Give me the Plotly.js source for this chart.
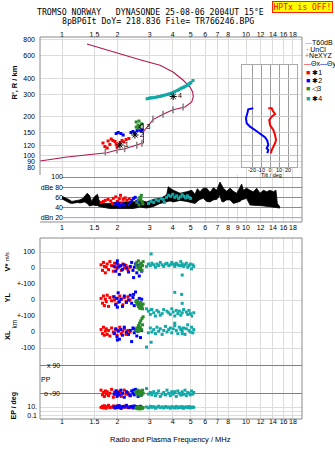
<!DOCTYPE html>
<html><head><meta charset="utf-8">
<script src="https://cdn.plot.ly/plotly-3.0.1.min.js"></script>
<style>html,body{margin:0;padding:0;background:#fff;}#chart{width:335px;height:451px;}</style>
</head><body><div id="chart"></div>
<script>
// ---------------- DATA ----------------
const fTicks = [1,1.5,2,3,4,5,6,7,8,10,12,14,16,18];
const fTickText = ['1','1.5','2','3','4','5','6','7','8','10','12','14','16','18'];
const fTicksMid = [1,1.5,2,3,4,5,6,7,8,9,10,12,14,16,18];
const fTickTextMid = ['1','1.5','2','3','4','5','6','7','8','9','10','12','14','16','18'];
const rTicks = [80,90,100,120,150,200,300,400,600,800];
const rTickText = ['80','90','100','120','150','200','300','400','600','800'];
const ppTicks = [-90,90];
const ppTickText = ['o -90','x 90'];

// NeXYZ profile (MHz, km)
const ne_f = [0.76,1.065,1.756,1.991,2.200,2.556,2.721,2.771,2.771,3.123,3.539,4.012,4.662,5.07,5.17,5.13,4.963,4.546,4.012,3.409,2.654,2.066,1.367];
const ne_R = [90.3,97.0,104.8,110.0,112.6,120.3,124.1,125.0,152.7,190.0,208.8,226.8,238.1,260.5,284.9,311.7,341.0,386.7,446.4,503.5,556.9,620.2,738.3];
const nem_f = [1.72,1.99,2.19,2.55,2.72,3.12,3.54,4.01,4.55];
const nem_R = [106,110,112.6,120,124,192,209,227,238];

// echo virtual heights R'
const rr_f = [1.67,1.71,1.78,1.82,1.76,1.89,1.94,1.97,2.02,2.07,2.12,2.17,2.23,2.31,1.99,1.85];
const rr_R = [124.7,117.1,129.3,121.4,114.0,130.5,128.1,122.5,118.2,125.9,130.5,127.0,132.8,135.2,116.1,134.0];
const rb_f = [1.97,2.02,2.09,2.15,2.37,2.43,2.49,2.56,2.62,2.69,2.72];
const rb_R = [147.9,150.6,147.9,144.0,150.6,153.3,149.3,156.1,157.5,154.7,157.5];
const rg_f = [2.53,2.62,2.59,2.65,2.70,2.53,2.59];
const rg_R = [182,185,172,168,176,166,162];
const rc_f = [2.90,2.96,3.01,3.06,3.12,3.20,3.28,3.35,3.41,3.48,3.54,3.63,3.72,3.80,3.86,3.94,4.01,4.10,4.22,4.30,4.38,4.46,4.55,4.63,4.72,4.80,4.90,4.96,5.02,5.15];
const rc_R = [276,278,280,281,281,283,285,287,288,290,293,295,298,300,302,305,309,314,320,324,329,334,338,342,347,352,360,364,370,383];

// cluster labels
const lab_f = [2.066,2.49,2.71,4.02];
const lab_R = [120.3,144.0,167,288];
const lab_t = ['1','2','3','4'];

// tilt inset
const ty_tilt = [-18.6,-24.1,-25.2,-26.7,-25.9,-22.2,-16.7,-11.1,-5.6,-3.0,-1.9,-3.7,-1.9,-3.0];
const ty_R = [232.6,228.5,212.6,194.4,177.7,167.2,157.5,148.5,138.2,130.0,120.3,113.4,110.0,103.7];
const tx_tilt = [-1.9,1.9,3.0,5.6,1.9,-0.8,0.0,3.7,5.6,6.7,5.6,3.7,1.9,1.1];
const tx_R = [232.6,232.6,222.8,210.0,200.0,188.5,172.3,157.5,144.0,131.6,124.1,116.7,110.0,103.7];

// amplitude (dBe) band
const dbe_f = [1.00,1.03,1.06,1.10,1.13,1.18,1.22,1.25,1.30,1.33,1.37,1.41,1.45,1.48,1.51,1.56,1.59,1.68,1.82,1.98,2.25,2.44,2.65,2.88,3.14,3.41,3.60,3.71,3.78,3.86,4.03,4.38,4.76,5.07,5.28,5.44,5.62,5.86,6.11,6.37,6.65,6.93,7.22,7.38,7.53,7.85,8.19,8.53,8.90,9.28,9.47,9.67,10.08,10.51,10.96,11.43,11.92,12.43,12.96,13.50,14.08,14.55,14.80,15.30];
const dbe_hi = [62,60,58,55,52,53,54,55,58,62,68,64,52,58,62,66,54,48,48,51,51,51,54,51,56,58,62,66,81,78,74,68,71,74,66,77,71,78,78,70,79,74,90,82,78,72,78,72,68,80,86,74,78,74,71,78,68,74,71,74,71,74,48,41];
const dbe_lo = [57,54,51,49,48,49,50,49,51,51,48,43,44,45,44,44,42,40,38,38,38,38,41,39,42,48,50,51,51,53,51,54,52,50,48,52,56,58,52,51,55,56,64,52,51,55,55,48,50,52,55,56,58,45,44,44,44,43,42,42,41,40,40,39];
const dr_f = [1.63,1.68,1.72,1.78,1.84,1.88,1.90,1.96,2.00,2.05,2.08,2.10,2.15,2.20,2.25,2.32];
const dr_v = [50,52,54,56,53,48,58,61,52,57,64,48,56,59,54,57];
const db_f = [1.95,2.00,2.05,2.12,2.18,2.30,2.35,2.40,2.45,2.50,2.55,2.60];
const db_v = [46,49,44,47,45,46,50,54,58,60,52,48];
const dg_f = [2.55,2.60,2.62,2.65,2.68,2.70,2.72,2.75];
const dg_v = [50,55,45,60,57,64,52,47];
const dc_f = [2.95,3.05,3.15,3.25,3.35,3.45,3.55,3.60,3.70,3.80,3.90,4.00,4.10,4.20,4.30,4.40,4.50,4.60,4.70,4.80,4.90,5.00];
const dc_v = [48,52,50,55,53,58,56,50,60,64,62,66,60,63,58,61,65,62,59,63,60,58];

// per-echo parameters: V* (m/s), YL, XL (km), PP (deg), EP (deg)
const red_f = [1.63,1.66,1.68,1.70,1.72,1.74,1.76,1.79,1.82,1.86,1.90,1.93,1.96,1.99,2.02,2.06,2.10,2.14,2.18,2.23,2.28,2.34];
const red_V = [20,-15,35,10,-30,5,25,-10,40,15,-20,30,5,-5,20,10,-15,25,0,15,-10,5];
const red_YL = [10,-20,25,-35,5,-10,30,-40,15,-5,20,0,-25,10,-15,25,5,-30,15,-10,20,0];
const red_XL = [15,-10,30,-20,5,20,-15,10,-25,25,0,-5,15,-20,10,30,-10,5,20,-15,10,0];
const red_PP = [-70,-100,-85,-110,-75,-95,-80,-105,-90,-65,-115,-85,-95,-75,-100,-80,-110,-90,-70,-95,-85,-105];
const red_EP = [8,15,6,20,10,5,12,25,7,9,18,6,14,10,22,8,5,12,16,9,11,7];

const blue_f = [1.92,1.96,1.99,2.02,2.05,2.09,2.13,2.18,2.24,2.30,2.35,2.39,2.43,2.47,2.51,2.55,2.59,2.63,2.67,2.71,2.00,2.45];
const blue_V = [10,-20,30,5,-40,15,-10,20,0,-25,10,35,-15,5,25,-30,15,-50,0,-20,45,-60];
const blue_YL = [20,-30,10,45,-10,5,-40,25,-15,0,30,-20,15,-35,50,-5,-25,10,-50,5,-45,35];
const blue_XL = [-10,20,-30,5,-45,15,-20,30,0,-15,10,-60,25,-5,15,-25,5,30,-35,10,-50,20];
const blue_PP = [-95,-75,-110,-85,-100,-70,-90,-115,-80,-95,-105,-75,-90,-100,-65,-85,-110,-95,-80,-100,-90,-70];
const blue_EP = [10,6,15,8,20,5,12,9,25,7,11,14,6,18,9,12,5,10,15,8,13,7];

const green_f = [2.52,2.55,2.58,2.60,2.62,2.64,2.66,2.68,2.70,2.72,2.74,2.76];
const green_V = [20,35,0,45,10,-10,25,5,30,-15,15,40];
const green_YL = [-10,-25,-5,-40,-20,-50,-30,-15,-45,-35,-55,-25];
const green_XL = [10,25,5,40,20,55,30,70,15,85,45,95];
const green_PP = [-80,-95,-70,-100,-85,-75,-90,-105,-80,-95,-70,-88];
const green_EP = [5,8,4,10,6,3.5,7,9,5,4,6,8];

const cyan_f = [2.88,2.95,3.02,3.08,3.15,3.22,3.28,3.35,3.42,3.50,3.57,3.65,3.72,3.80,3.88,3.95,4.02,4.10,4.18,4.26,4.34,4.42,4.50,4.58,4.66,4.74,4.82,4.90,4.98,5.06,5.14,5.20,3.05,4.10,4.47,4.50];
const cyan_V = [10,25,15,30,20,5,25,15,35,20,10,25,30,15,20,35,25,10,30,20,15,40,25,10,20,30,5,15,25,-5,20,10,88,20,15,-44];
const cyan_YL = [-55,-70,-90,-60,-80,-100,-65,-75,-95,-85,-60,-105,-70,-80,-90,-55,-75,-100,-65,-85,-70,-95,-80,-60,-110,-75,-90,-65,-85,-100,-115,-80,-60,48,35,-21];
const cyan_XL = [-94,-5,25,0,15,-10,30,5,20,-15,10,35,0,15,25,-5,20,40,10,-10,30,15,5,25,-15,20,45,10,0,30,-5,15,-64,55,20,-10];
const cyan_PP = [-60,-95,-85,-100,-80,-105,-90,-75,-110,-95,-85,-100,-70,-90,-105,-80,-95,-85,-110,-75,-90,-100,-80,-95,-70,-105,-85,-90,-100,-75,-95,-85,-90,-80,-100,-95];
const cyan_EP = [10,6,14,8,12,5,9,15,7,11,6,13,8,10,5,12,9,7,14,6,10,8,12,5,9,11,7,13,6,10,8,9,12,6,10,7];

// ---------------- STYLE / LAYOUT ----------------
const C_RED='#ff0000', C_BLUE='#0000ff', C_GREEN='#2a8a2a', C_CYAN='#12a8a8', C_NE='#b01850', C_NEM='#e0508a';
const GRID='#dcdcdc';
const W=335, H=451;
const px = x => x/W, py = y => 1 - y/H;
const XD=[px(40), px(302)];
const XR=[-0.1196, 1.3043];
const FONT='Liberation Sans, Arial, sans-serif';
const MONO='DejaVu Sans Mono, Liberation Mono, monospace';

const traces = [];
traces.push({x:dbe_f, y:dbe_lo, xaxis:'x4', yaxis:'y7', mode:'lines', line:{color:'#000', width:0.8}, hoverinfo:'skip'});
traces.push({x:dbe_f, y:dbe_hi, xaxis:'x4', yaxis:'y7', mode:'lines', fill:'tonexty', fillcolor:'#000', line:{color:'#000', width:0.8}, hoverinfo:'skip'});
[[dr_f,dr_v,C_RED],[db_f,db_v,C_BLUE],[dg_f,dg_v,C_GREEN],[dc_f,dc_v,C_CYAN]].forEach(([f,v,c])=>{
  traces.push({x:f, y:v, xaxis:'x4', yaxis:'y7', mode:'markers', marker:{symbol:'square', size:3, color:c}, hoverinfo:'skip'});
});
traces.push({x:ne_f, y:ne_R, xaxis:'x3', yaxis:'y6', mode:'lines', line:{color:C_NE, width:1.1}, hoverinfo:'skip'});
traces.push({x:nem_f, y:nem_R, xaxis:'x3', yaxis:'y6', mode:'markers', marker:{symbol:'line-ns-open', size:5, line:{color:C_NEM, width:1.5}}, hoverinfo:'skip'});
[[rr_f,rr_R,C_RED],[rb_f,rb_R,C_BLUE],[rg_f,rg_R,C_GREEN],[rc_f,rc_R,C_CYAN]].forEach(([f,r,c])=>{
  traces.push({x:f, y:r, xaxis:'x3', yaxis:'y6', mode:'markers', marker:{symbol:'square', size:3, color:c}, hoverinfo:'skip'});
});
traces.push({x:lab_f, y:lab_R, text:lab_t, xaxis:'x3', yaxis:'y6', mode:'markers+text', textposition:'middle right',
  textfont:{size:7, color:'#000', family:FONT},
  marker:{symbol:['asterisk-open','asterisk-open','triangle-left-open','asterisk-open'], size:6, color:'#000', line:{color:'#000', width:1}}, hoverinfo:'skip'});
traces.push({x:ty_tilt, y:ty_R, xaxis:'x5', yaxis:'y8', mode:'lines', line:{color:C_BLUE, width:2}, hoverinfo:'skip'});
traces.push({x:tx_tilt, y:tx_R, xaxis:'x5', yaxis:'y8', mode:'lines', line:{color:C_RED, width:2}, hoverinfo:'skip'});
const clusters = [
  [red_f, red_V, red_YL, red_XL, red_PP, red_EP, C_RED],
  [blue_f, blue_V, blue_YL, blue_XL, blue_PP, blue_EP, C_BLUE],
  [green_f, green_V, green_YL, green_XL, green_PP, green_EP, C_GREEN],
  [cyan_f, cyan_V, cyan_YL, cyan_XL, cyan_PP, cyan_EP, C_CYAN]
];
clusters.forEach(([f,V,YL,XL,PP,EP,c])=>{
  [[V,'y'],[YL,'y2'],[XL,'y3'],[PP,'y4'],[EP,'y5']].forEach(([v,ya])=>{
    traces.push({x:f, y:v, xaxis:'x', yaxis:ya, mode:'markers', cliponaxis:false, marker:{symbol:'square', size:3, color:c}, hoverinfo:'skip'});
  });
});

const xBase = {type:'log', ticks:'', tickangle:0, showgrid:true, gridcolor:GRID, zeroline:false, showline:false, tickfont:{size:7}};
const yBase = {anchor:'x', ticks:'', showgrid:true, gridcolor:GRID, zeroline:false, showline:false, tickfont:{size:7}, ticklabelstandoff:4};
const layout = {
  width:W, height:H, margin:{l:0,r:0,t:0,b:0}, paper_bgcolor:'#fff', plot_bgcolor:'#fff', showlegend:false,
  font:{family:FONT, size:7, color:'#000'},
  xaxis: Object.assign({}, xBase, {domain:XD, range:XR, anchor:'y5', tickvals:fTicks, ticktext:fTickText, ticklabelstandoff:-3}),
  xaxis3: Object.assign({}, xBase, {domain:XD, range:XR, anchor:'y6', side:'top', tickvals:fTicks, ticktext:fTickText, ticklabelstandoff:-2}),
  xaxis4: Object.assign({}, xBase, {domain:[px(62), px(302)], range:[0, XR[1]], anchor:'y7', tickvals:fTicksMid, ticktext:fTickTextMid}),
  xaxis5:{domain:[px(241.7), px(297.3)], range:[-31.44, 30.33], anchor:'y8', tickvals:[-20,-10,0,10,20], ticktext:['-20','-10','0','10','20'], ticks:'', tickangle:0, ticklabelstandoff:-3, showgrid:true, gridcolor:'#9a9a9a', zeroline:false, showline:true, mirror:true, linecolor:'#aaaaaa', tickfont:{size:5.5}},
  yaxis: Object.assign({}, yBase, {domain:[py(284), py(238)], range:[-100,187.5], tickvals:[-100,0,100], ticktext:['+-100','0','100']}),
  yaxis2: Object.assign({}, yBase, {domain:[py(316), py(284)], range:[-100,100], tickvals:[-100,0], ticktext:['+-100','0']}),
  yaxis3: Object.assign({}, yBase, {domain:[py(357), py(316)], range:[-156.25,100], tickvals:[-100,0], ticktext:['-100','0']}),
  yaxis4: Object.assign({}, yBase, {domain:[py(400), py(357)], range:[-132.6,140.9], tickvals:ppTicks, showticklabels:false, gridcolor:'#808080'}),
  yaxis5: Object.assign({}, yBase, {domain:[py(419), py(400)], type:'log', range:[-1.8916,2.687], tickvals:[0.1,1,10], ticktext:['0.1','','10.'], ticklabelstandoff:2}),
  yaxis6: Object.assign({}, yBase, {anchor:'x3', domain:[py(175), py(37)], type:'log', range:[1.8463,2.9228], tickvals:rTicks, ticktext:rTickText}),
  yaxis7: Object.assign({}, yBase, {anchor:'x4', domain:[py(222), py(175)], range:[11.55,103.93], tickvals:[20,40,60,80,100], ticktext:['dBn 20','40','60','dBe 80','100'], gridcolor:'#8c8c8c', ticklabelstandoff:-2}),
  yaxis8: Object.assign({}, yBase, {anchor:'x5', domain:[py(167.3), py(65)], type:'log', range:[1.9064,2.7044], tickvals:rTicks, showticklabels:false, gridcolor:'#c8c8c8', showline:true, mirror:true, linecolor:'#aaaaaa'}),
  shapes:[
    {type:'line', xref:'paper', yref:'paper', x0:px(40), x1:px(302), y0:py(37), y1:py(37), line:{color:'#8a8a8a', width:1}},
    {type:'line', xref:'paper', yref:'paper', x0:px(302), x1:px(302), y0:py(37), y1:py(222), line:{color:'#8a8a8a', width:1}},
    {type:'line', xref:'paper', yref:'paper', x0:px(40), x1:px(302), y0:py(222), y1:py(222), line:{color:'#8a8a8a', width:1}},
    {type:'line', xref:'paper', yref:'paper', x0:px(40), x1:px(40), y0:py(37), y1:py(175), line:{color:'#8a8a8a', width:1}},
    {type:'rect', xref:'paper', yref:'paper', x0:px(40), x1:px(302), y0:py(419), y1:py(238), line:{color:'#8a8a8a', width:1}},
    {type:'line', xref:'x4 domain', yref:'y7', x0:0, x1:1, y0:20, y1:20, line:{color:'#b4b4ec', width:1}}
  ],
  annotations:[]
};
const A = layout.annotations;
function ann(x,y,text,opt){A.push(Object.assign({xref:'paper', yref:'paper', x:px(x), y:py(y), text:text, showarrow:false, xanchor:'left', yanchor:'middle', font:{family:FONT, size:7, color:'#000'}}, opt||{}));}
const sp='\u00a0';
ann(35,12,'TROMSO NORWAY'+sp+sp+sp+'DYNASONDE 25-08-06 2004UT 15°E',{font:{family:MONO,size:8.2,color:'#000'}});
ann(60,20.7,'8pBP6It DoY= 218.836 File= TR766246.BPG',{font:{family:MONO,size:8.2,color:'#000'}});
ann(302.5,7.3,'HPTx is OFF!',{xanchor:'center', font:{family:MONO,size:8,color:'#ff0000'}, bgcolor:'#ffff00', bordercolor:'#ff2000', borderwidth:1, borderpad:0.5});
ann(303,42,'<span style="color:#999999">—</span>T60dB');
ann(304,49,'·'+sp+'UnCl');
ann(303,56,'<span style="color:'+C_NEM+'">+</span>NeXYZ');
ann(302,63.5,'<span style="color:#e00000">—</span>Θx<span style="color:#0000e0">—</span>Θy');
ann(304,72.5,'<span style="color:'+C_RED+'">■</span>'+sp+'✱1');
ann(304,80.5,'<span style="color:'+C_BLUE+'">■</span>'+sp+'✱2');
ann(304,89,'<span style="color:'+C_GREEN+'">■</span>'+sp+'◁3');
ann(304,98,'<span style="color:'+C_CYAN+'">■</span>'+sp+'✱4');
ann(13.5,83,'<b>R\', R / km</b>',{xanchor:'center', textangle:-90, font:{family:FONT,size:7.5,color:'#000'}});
ann(6.5,268,'<b>V*</b>',{xanchor:'center', textangle:-90, font:{family:FONT,size:7.5,color:'#000'}});
ann(6.5,256.5,'m/s',{xanchor:'center', textangle:-90, font:{family:FONT,size:5.5,color:'#000'}});
ann(7,297.5,'<b>YL</b>',{xanchor:'center', textangle:-90, font:{family:FONT,size:7.5,color:'#000'}});
ann(13.5,324,'km',{xanchor:'center', textangle:-90, font:{family:FONT,size:6.5,color:'#000'}});
ann(7,335,'<b>XL</b>',{xanchor:'center', textangle:-90, font:{family:FONT,size:7.5,color:'#000'}});
ann(13.5,406,'<b>EP / deg</b>',{xanchor:'center', textangle:-90, font:{family:FONT,size:7,color:'#000'}});
ann(46.3,379,'PP',{xanchor:'center'});
// PP tick labels (drawn inside the frame, as in the original)
ann(62,393.3,ppTickText[0],{xanchor:'right'});
ann(62,365,ppTickText[1],{xanchor:'right'});
ann(170,439,'Radio and Plasma Frequency / MHz',{xanchor:'center', font:{family:FONT,size:7.5,color:'#000'}});
ann(271.5,174.8,'Tilt / deg',{xanchor:'center', font:{family:FONT,size:5.5,color:'#000'}});

Plotly.newPlot('chart', traces, layout, {staticPlot:true, displayModeBar:false});
</script></body></html>
